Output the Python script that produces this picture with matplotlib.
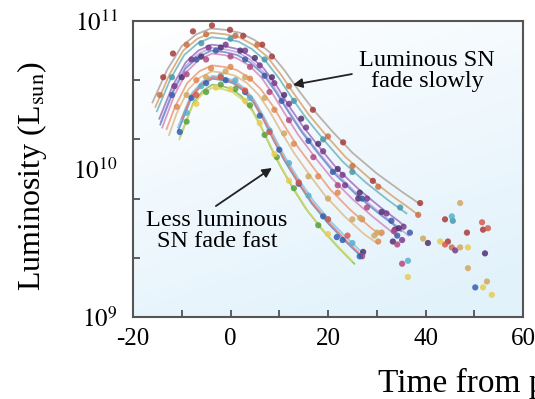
import numpy as np
import matplotlib
matplotlib.use("Agg")
import matplotlib.pyplot as plt
from matplotlib.ticker import FixedLocator, NullFormatter

# fitted light curves: days from peak and log10(L / Lsun)
curve_days = [
    [-16, -13, -10, -7, -4, -1, 2, 5, 8, 11, 14, 17, 21, 25, 30, 35, 39],
    [-15.4, -12.5, -9.7, -6.8, -4.0, -1.1, 1.8, 4.6, 7.5, 10.3, 13.2, 16.0, 19.8, 23.6, 28.4, 33.1, 36.9, 38.5],
    [-15.1, -12.3, -9.5, -6.7, -3.9, -1.1, 1.7, 4.4, 7.2, 10.0, 12.8, 15.6, 19.3, 23.0, 27.7, 32.3, 36.1],
    [-14.6, -11.9, -9.2, -6.6, -3.9, -1.2, 1.5, 4.1, 6.8, 9.5, 12.1, 14.8, 18.4, 21.9, 26.4, 30.8, 34.4, 35.5],
    [-14.3, -11.7, -9.1, -6.5, -3.9, -1.3, 1.4, 4.0, 6.6, 9.2, 11.8, 14.4, 17.9, 21.4, 25.7, 30.1, 33.5, 36.5],
    [-14.4, -11.8, -9.2, -6.5, -3.9, -1.2, 1.4, 4.0, 6.7, 9.3, 12.0, 14.6, 18.1, 21.6, 26.0, 30.4, 34.0, 35.0],
    [-14.0, -11.5, -8.9, -6.4, -3.8, -1.3, 1.2, 3.8, 6.3, 8.8, 11.4, 13.9, 17.3, 20.7, 24.9, 29.1, 32.5, 34.0],
    [-13.1, -11.4, -8.9, -6.4, -3.8, -1.3, 1.2, 3.7, 6.2, 8.8, 11.3, 13.8, 17.2, 20.5, 24.7, 28.9, 31.0],
    [-12.6, -11.0, -8.6, -6.2, -3.8, -1.4, 1.0, 3.4, 5.8, 8.2, 10.6, 13.0, 16.2, 19.4, 23.4, 27.4, 30.0],
    [-10.8, -8.0, -5.8, -3.7, -1.6, 0.6, 2.7, 4.8, 6.9, 9.1, 11.2, 14.0, 16.9, 20.4, 24.0, 27.5],
    [-10.7, -7.9, -5.8, -3.7, -1.6, 0.5, 2.6, 4.7, 6.8, 8.9, 11.0, 13.8, 16.6, 20.1, 23.6, 27.1],
    [-10.0, -7.9, -5.8, -3.7, -1.6, 0.5, 2.6, 4.7, 6.8, 8.9, 11.0, 13.8, 16.6, 20.1, 23.6, 26.4],
    [-10.3, -7.6, -5.6, -3.7, -1.7, 0.3, 2.3, 4.3, 6.2, 8.2, 10.2, 12.8, 15.5, 18.8, 22.1, 25.4],
    [-10.5, -7.8, -5.7, -3.7, -1.6, 0.4, 2.4, 4.5, 6.5, 8.6, 10.6, 13.3, 16.0, 19.4, 22.8, 24.9],
]
curve_logL = [
    [10.45, 10.67, 10.83, 10.91, 10.95, 10.94, 10.92, 10.87, 10.79, 10.67, 10.53, 10.40, 10.25, 10.11, 9.97, 9.85, 9.76],
    [10.42, 10.64, 10.80, 10.88, 10.92, 10.91, 10.89, 10.84, 10.76, 10.64, 10.50, 10.37, 10.22, 10.08, 9.94, 9.82, 9.73, 9.69],
    [10.39, 10.61, 10.77, 10.85, 10.89, 10.88, 10.86, 10.81, 10.73, 10.61, 10.47, 10.34, 10.19, 10.05, 9.91, 9.79, 9.70],
    [10.34, 10.56, 10.72, 10.80, 10.84, 10.83, 10.81, 10.76, 10.68, 10.56, 10.42, 10.29, 10.14, 10.00, 9.86, 9.74, 9.65, 9.62],
    [10.32, 10.54, 10.70, 10.78, 10.82, 10.81, 10.79, 10.74, 10.66, 10.54, 10.40, 10.27, 10.12, 9.98, 9.84, 9.72, 9.63, 9.55],
    [10.30, 10.52, 10.68, 10.76, 10.80, 10.79, 10.77, 10.72, 10.64, 10.52, 10.38, 10.25, 10.10, 9.96, 9.82, 9.70, 9.61, 9.58],
    [10.28, 10.50, 10.66, 10.74, 10.78, 10.77, 10.75, 10.70, 10.62, 10.50, 10.36, 10.23, 10.08, 9.94, 9.80, 9.68, 9.59, 9.55],
    [10.27, 10.42, 10.58, 10.66, 10.70, 10.69, 10.67, 10.62, 10.54, 10.42, 10.28, 10.15, 10.00, 9.86, 9.72, 9.60, 9.55],
    [10.23, 10.38, 10.54, 10.62, 10.66, 10.65, 10.63, 10.58, 10.50, 10.38, 10.24, 10.11, 9.96, 9.82, 9.68, 9.56, 9.50],
    [10.28, 10.51, 10.59, 10.63, 10.62, 10.60, 10.55, 10.47, 10.35, 10.21, 10.08, 9.93, 9.79, 9.65, 9.53, 9.42],
    [10.26, 10.49, 10.57, 10.61, 10.60, 10.58, 10.53, 10.45, 10.33, 10.19, 10.06, 9.91, 9.77, 9.63, 9.51, 9.40],
    [10.34, 10.50, 10.58, 10.62, 10.61, 10.59, 10.54, 10.46, 10.34, 10.20, 10.07, 9.92, 9.78, 9.64, 9.52, 9.43],
    [10.22, 10.45, 10.53, 10.57, 10.56, 10.54, 10.49, 10.41, 10.29, 10.15, 10.02, 9.87, 9.73, 9.59, 9.47, 9.36],
    [10.20, 10.43, 10.51, 10.55, 10.54, 10.52, 10.47, 10.39, 10.27, 10.13, 10.00, 9.85, 9.71, 9.57, 9.45, 9.38],
]

# measured points for each supernova
obs_days = [
    [-13.8, -11.8, -7.7, -3.8, -0.1, 2.6, 6.5, 8.5, 16.9, 23.1, 29.2, 38.9, 44.0, 48.5, 51.8, 44.6],
    [-14.5, -9.0, -5.0, 1.0, 5.5, 12.0, 20.0, 25.0, 30.3, 38.5, 45.4],
    [-12.0, -6.0, 0.0, 7.0, 13.0, 19.0, 25.0, 34.8, 45.6],
    [-11.5, -8.0, -4.5, -1.0, 3.0, 6.0, 9.0, 12.0, 15.5, 19.0, 23.0, 28.0, 32.0, 35.5, 46.1, 35.2, 23.5],
    [-10.0, -6.0, -2.0, 2.0, 5.0, 8.5, 11.0, 14.5, 18.0, 22.0, 26.5, 31.0, 34.5, 52.2, 40.5, 33.3, 26.2, 33.7, 27.2],
    [-12.0, -7.0, -3.0, 3.0, 7.0, 10.5, 16.0, 21.0, 27.0, 33.0, 36.8, 34.2],
    [-9.0, -5.0, 0.0, 4.0, 8.0, 12.0, 17.0, 22.0, 28.0, 33.5, 34.2, 35.2, 27.0],
    [-11.0, -7.0, -4.0, 0.0, 4.0, 9.0, 13.0, 18.0, 22.0, 27.0, 31.0, 30.3],
    [-9.0, -5.0, -1.0, 3.0, 7.0, 11.0, 16.0, 20.0, 25.0, 29.5, 47.1, 48.7, 52.6, 47.1, 39.5, 30.1, 26.6],
    [-9.0, -6.0, -2.0, 1.0, 4.0, 8.0, 12.0, 16.0, 20.0, 25.0, 45.4, 36.4],
    [-10.4, -8.0, -5.0, -1.0, 3.0, 6.0, 10.0, 14.0, 19.0, 23.0, 26.5, 50.2, 21.8],
    [-7.0, -2.0, 3.0, 8.0, 14.0, 20.0, 24.0, 51.6, 52.8, 44.0],
    [-9.0, -5.0, -2.0, 1.0, 4.0, 7.0, 9.5, 13.0, 18.0],
    [-7.0, -3.0, 0.0, 3.0, 6.0, 9.0, 12.0, 20.0, 51.8, 53.6, 43.0, 48.7, 36.4],
]
obs_logL = [
    [10.62, 10.78, 10.93, 10.97, 10.94, 10.90, 10.84, 10.76, 10.40, 10.18, 9.92, 9.77, 9.66, 9.57, 9.59, 9.51],
    [10.50, 10.84, 10.91, 10.90, 10.84, 10.56, 10.22, 10.02, 9.88, 9.69, 9.47],
    [10.62, 10.85, 10.88, 10.74, 10.46, 10.20, 9.98, 9.74, 9.65],
    [10.56, 10.74, 10.82, 10.84, 10.80, 10.70, 10.58, 10.44, 10.28, 10.12, 9.96, 9.80, 9.70, 9.61, 9.45, 9.52, 9.89],
    [10.62, 10.76, 10.82, 10.80, 10.75, 10.62, 10.50, 10.34, 10.17, 10.00, 9.84, 9.71, 9.60, 9.43, 9.50, 9.51, 9.80, 9.59, 9.44],
    [10.50, 10.74, 10.80, 10.74, 10.63, 10.46, 10.19, 9.98, 9.80, 9.65, 9.57, 9.55],
    [10.64, 10.74, 10.76, 10.69, 10.52, 10.33, 10.08, 9.89, 9.74, 9.58, 9.49, 9.36, 9.41],
    [10.42, 10.60, 10.68, 10.69, 10.61, 10.40, 10.17, 9.95, 9.84, 9.66, 9.57, 9.51],
    [10.50, 10.62, 10.66, 10.62, 10.48, 10.24, 9.95, 9.80, 9.66, 9.55, 9.77, 9.33, 9.24, 9.47, 9.53, 9.57, 9.67],
    [10.38, 10.56, 10.63, 10.60, 10.48, 10.26, 10.04, 9.82, 9.66, 9.50, 9.68, 9.38],
    [10.25, 10.48, 10.58, 10.60, 10.52, 10.36, 10.13, 9.90, 9.68, 9.52, 9.41, 9.20, 9.54],
    [10.50, 10.62, 10.53, 10.25, 9.91, 9.66, 9.55, 9.64, 9.60, 9.49],
    [10.32, 10.52, 10.57, 10.54, 10.43, 10.23, 10.08, 9.87, 9.62],
    [10.44, 10.55, 10.54, 10.46, 10.31, 10.10, 9.92, 9.56, 9.20, 9.15, 9.51, 9.47, 9.27],
]

y_major = [1e9, 1e10, 1e11]
y_major_labels = [r"$10^{9}$", r"$10^{10}$", r"$10^{11}$"]
y_minor = [2.51e9, 6.31e9, 1.585e10, 3.98e10]

line_colors = ["#b4aaa2", "#d8a878", "#78b8c0", "#a078c0", "#c8a8e0", "#7090d0", "#d890c0",
               "#f0a080", "#e0c090", "#90c8e8", "#6890d0", "#e88070", "#90c060", "#d0d870"]
dot_colors = ["#a83c3c", "#c87048", "#4898a8", "#7a3a8a", "#503070", "#3c5aa8", "#b04880",
              "#e08850", "#d0a860", "#58b0d0", "#3060b0", "#d85848", "#58a040", "#e8cc50"]

plt.rcParams["font.family"] = ["Liberation Serif", "DejaVu Serif"]
plt.rcParams["mathtext.fontset"] = "stix"
plt.rcParams["axes.unicode_minus"] = False

fig = plt.figure(figsize=(5.35, 3.99), dpi=100)
ax = fig.add_axes([0.2486, 0.2055, 0.729, 0.7419])

# pale blue wash, white at the upper left
gx, gy = np.meshgrid(np.linspace(0, 1, 200), np.linspace(0, 1, 200))
shade = np.clip(0.8 * (1 - gy) + 0.35 * gx, 0, 1)[..., None]
wash = (1 - shade) * np.array([1.0, 1.0, 1.0]) + shade * np.array([0.89, 0.95, 0.985])
ax.imshow(wash, extent=(0, 1, 0, 1), origin="lower", transform=ax.transAxes,
          aspect="auto", zorder=0)

for i in range(len(curve_days)):
    ax.plot(curve_days[i], 10 ** np.array(curve_logL[i]), color=line_colors[i],
            lw=1.3, alpha=0.9, zorder=2)
for i in range(len(obs_days)):
    ax.scatter(obs_days[i], 10 ** np.array(obs_logL[i]), s=20, color=dot_colors[i],
               alpha=0.85, edgecolors="none", zorder=3)

ax.set_yscale("log")
ax.set_xlim(-20, 60)
ax.set_ylim(1e9, 1e11)

ax.set_xticks([-20, 0, 20, 40, 60])
ax.set_xticks([-10, 10, 30, 50], minor=True)
ax.tick_params(axis="x", which="both", direction="in", length=5, width=1.2,
               color="#444444", labelsize=18, pad=8)

ax.set_yticks(y_major, labels=y_major_labels)
ax.yaxis.set_minor_locator(FixedLocator(y_minor))
ax.yaxis.set_minor_formatter(NullFormatter())
ax.tick_params(axis="y", which="major", length=0, labelsize=18, pad=11)
ax.tick_params(axis="y", which="minor", direction="in", length=5, width=1.2, color="#444444")

for s in ax.spines.values():
    s.set_color("#555555")
    s.set_linewidth(1.5)

fig.text(0.06, 0.56, r"Luminosity (L$_{\mathrm{sun}}$)", rotation=90,
         ha="center", va="center", fontsize=23)
# the source image is cropped on the right, so this label runs off the edge
fig.text(0.706, 0.018, "Time from peak (days)", ha="left", va="baseline", fontsize=24)

ax.annotate("", xy=(12.8, 3.70e10), xytext=(24.9, 4.38e10),
            arrowprops=dict(arrowstyle="-|>", color="#222222", lw=1.3,
                            mutation_scale=14, shrinkA=0, shrinkB=0))
ax.text(40.3, 4.6e10, "Luminous SN\nfade slowly", ha="center", va="center",
        fontsize=17.5, linespacing=1.05)

ax.annotate("", xy=(8.5, 1.016e10), xytext=(-3.0, 5.62e9),
            arrowprops=dict(arrowstyle="-|>", color="#222222", lw=1.3,
                            mutation_scale=14, shrinkA=0, shrinkB=0))
ax.text(-2.8, 3.81e9, "Less luminous\nSN fade fast", ha="center", va="center",
        fontsize=17.5, linespacing=1.05)

fig.savefig("out.png", dpi=100)
